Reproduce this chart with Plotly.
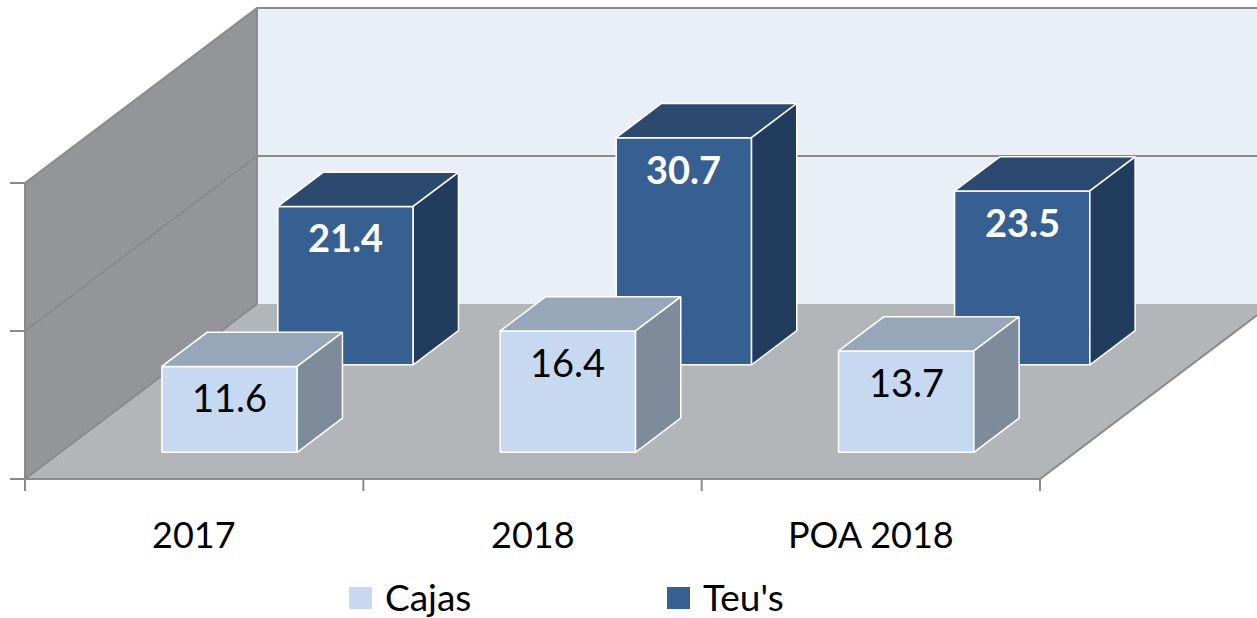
import plotly.graph_objects as go

# ---- data ----
categories = ["2017", "2018", "POA 2018"]
series_names = ["Cajas", "Teu's"]
cajas = [11.6, 16.4, 13.7]
teus = [21.4, 30.7, 23.5]
value_ticks = [0, 20, 40]

# ---- styling / geometry ----
W, H = 1257, 618
PX_CAT = 338.33          # pixels per category unit
PX_VAL = 7.4             # pixels per value unit
ORIGIN_X, ORIGIN_Y = 25, 479
DEPTH_DX = 232 / PX_CAT   # full depth shift in category units
DEPTH_DY = 175 / PX_VAL   # full depth shift in value units
VMAX = 40
BAR_W = 0.40
BAR_D = 0.195
ROW_CENTER = [0.25, 0.75]

FONT = "Lato, 'Open Sans', sans-serif"
colors = {
    "Cajas": dict(front="#c6d9f1", top="#97a6b8", side="#7e8b9a", text="black", bold=False),
    "Teu's": dict(front="#366092", top="#2c4a70", side="#213c5d", text="white", bold=True),
}
EDGE = "#8a8a8a"


def P(x, v, d):
    return x + d * DEPTH_DX, v + d * DEPTH_DY


fig = go.Figure()


def poly(pts, fill, line_color="rgba(0,0,0,0)", lw=0):
    xs = [p[0] for p in pts] + [pts[0][0]]
    ys = [p[1] for p in pts] + [pts[0][1]]
    fig.add_trace(go.Scatter(x=xs, y=ys, mode="lines", fill="toself", fillcolor=fill,
                             line=dict(color=line_color, width=lw), hoverinfo="skip",
                             showlegend=False))


def seg(pts, color=EDGE, lw=2):
    fig.add_trace(go.Scatter(x=[p[0] for p in pts], y=[p[1] for p in pts], mode="lines",
                             line=dict(color=color, width=lw), hoverinfo="skip", showlegend=False))


n = len(categories)
# back wall
poly([P(0, 0, 1), P(n, 0, 1), P(n, VMAX, 1), P(0, VMAX, 1)], "#e9eff7")
# left wall
poly([P(0, 0, 0), P(0, 0, 1), P(0, VMAX, 1), P(0, VMAX, 0)], "#939598")
# floor
poly([P(0, 0, 0), P(n, 0, 0), P(n, 0, 1), P(0, 0, 1)], "#b3b6b9")

# gridlines
for v in value_ticks[1:]:
    seg([P(0, v, 0), P(0, v, 1), P(n, v, 1)])
# wall edges
seg([P(0, 0, 0), P(0, VMAX, 0)])
seg([P(0, 0, 1), P(0, VMAX, 1)])
seg([P(0, 0, 0), P(0, 0, 1)])
# floor edges
seg([P(0, 0, 0), P(n, 0, 0), P(n, 0, 1)])

# value axis ticks (left)
tick_len = 15 / PX_CAT
for v in value_ticks:
    seg([(-tick_len, v), (0, v)])
# category ticks (bottom)
ctick = 12 / PX_VAL
for i in range(n + 1):
    seg([(i, 0), (i, -ctick)])


def bar(ci, val, row, name):
    c = colors[name]
    x0 = ci + 0.5 - BAR_W / 2
    x1 = ci + 0.5 + BAR_W / 2
    d0 = ROW_CENTER[row] - BAR_D / 2
    d1 = ROW_CENTER[row] + BAR_D / 2
    poly([P(x0, 0, d0), P(x1, 0, d0), P(x1, val, d0), P(x0, val, d0)], c["front"], "white", 1.5)
    poly([P(x0, val, d0), P(x1, val, d0), P(x1, val, d1), P(x0, val, d1)], c["top"], "white", 1.5)
    poly([P(x1, 0, d0), P(x1, 0, d1), P(x1, val, d1), P(x1, val, d0)], c["side"], "white", 1.5)
    lx, ly = P(ci + 0.5, val, d0)
    txt = f"<b>{val}</b>" if c["bold"] else f"{val}"
    fig.add_annotation(x=lx, y=ly, text=txt, showarrow=False, yshift=-31,
                       font=dict(family=FONT, size=38, color=c["text"]),
                       xanchor="center", yanchor="middle")


# back row first, then front row
for ci, v in enumerate(teus):
    bar(ci, v, 1, "Teu's")
for ci, v in enumerate(cajas):
    bar(ci, v, 0, "Cajas")

# category labels
for i, cat in enumerate(categories):
    fig.add_annotation(x=i + 0.5, y=-55 / PX_VAL, text=cat, showarrow=False,
                       font=dict(family=FONT, size=36, color="black"),
                       xanchor="center", yanchor="middle")

# legend (custom)
legend_items = [("Cajas", 349), ("Teu's", 667)]
for name, px in legend_items:
    fig.add_shape(type="rect", xref="paper", yref="paper",
                  x0=px / W, x1=(px + 23) / W, y0=1 - 609 / H, y1=1 - 587 / H,
                  fillcolor=colors[name]["front"], line=dict(width=0))
    fig.add_annotation(xref="paper", yref="paper", x=(px + 34) / W, y=1 - 596 / H,
                       text=name, showarrow=False, xanchor="left", yanchor="middle",
                       font=dict(family=FONT, size=37, color="black"))

fig.update_layout(
    width=W, height=H,
    margin=dict(l=0, r=0, t=0, b=0),
    paper_bgcolor="white", plot_bgcolor="white",
    showlegend=False,
    xaxis=dict(range=[-ORIGIN_X / PX_CAT, (W - ORIGIN_X) / PX_CAT], visible=False, fixedrange=True),
    yaxis=dict(range=[(ORIGIN_Y - H) / PX_VAL, ORIGIN_Y / PX_VAL], visible=False, fixedrange=True),
)

fig.write_html("out.html", config={"displayModeBar": False},
               post_script="document.body.style.margin='0';document.body.style.overflow='hidden';")
